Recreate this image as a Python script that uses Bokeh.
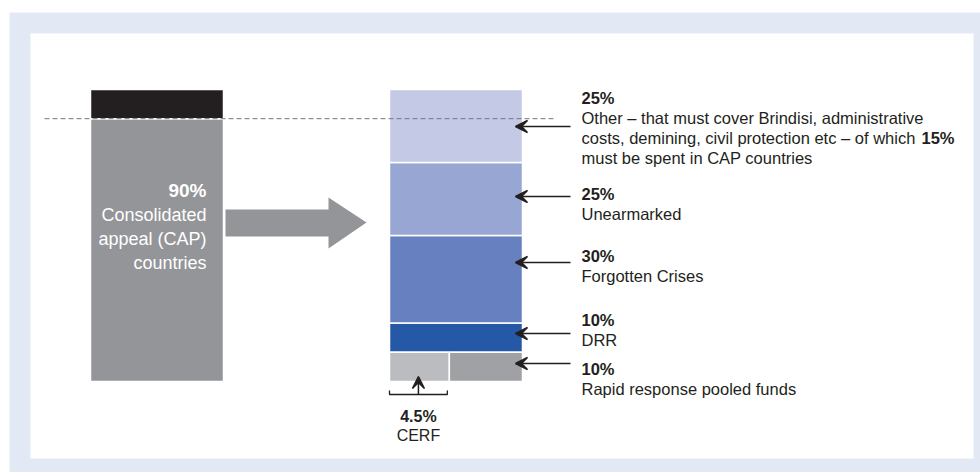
from bokeh.plotting import figure
from bokeh.models import Range1d, ColumnDataSource, Arrow, VeeHead
from bokeh.core.properties import value
from bokeh.embed import file_html
from bokeh.resources import INLINE
import numpy as np

# ---------------- data ----------------
left_labels = ["Consolidated appeal (CAP) countries", "Non-CAP"]
left_shares = [90, 10]

right_labels = ["Rapid response pooled funds", "DRR", "Forgotten Crises", "Unearmarked", "Other"]
right_shares = [10, 10, 30, 25, 25]

cerf_label = "CERF"
cerf_share = 4.5          # part of the rapid response pooled funds
other_cap_share = 15      # part of "Other" that must be spent in CAP countries

# ---------------- style / layout ----------------
FONT = value("Liberation Sans")
TXT = "#231f20"
left_colors = ["#939598", "#231f20"]
right_colors = ["#a0a1a4", "#2558a6", "#6780bf", "#98a6d3", "#c4c9e6"]
cerf_color = "#bbbcbf"

BAR_BOTTOM_PX, BAR_TOP_PX = 381, 89
PPP = (BAR_BOTTOM_PX - BAR_TOP_PX) / 100.0

p = figure(width=980, height=472,
           x_range=Range1d(0, 980), y_range=Range1d(472, 0),
           output_backend="svg", toolbar_location=None, min_border=0,
           x_axis_type=None, y_axis_type=None,
           outline_line_color=None,
           background_fill_color="white", border_fill_color="white")
p.grid.visible = False
p.extra_y_ranges = {"pct": Range1d(start=-(472 - BAR_BOTTOM_PX) / PPP,
                                   end=(BAR_BOTTOM_PX - 0) / PPP)}

# background panels
p.quad(left=[9], right=[980], bottom=[472], top=[12], color="#e3e9f4", line_color=None)
p.quad(left=[30], right=[973], bottom=[458], top=[33], color="white", line_color=None)

# ---------------- left bar ----------------
lb = np.cumsum([0] + left_shares[:-1])
lt = np.cumsum(left_shares)
p.quad(left=90, right=223, bottom=lb, top=lt, fill_color=left_colors,
       line_color="white", line_width=1.5, y_range_name="pct")

# ---------------- right bar ----------------
RX0, RX1 = 389, 522
rb = np.cumsum([0] + right_shares[:-1])
rt = np.cumsum(right_shares)
p.quad(left=RX0, right=RX1, bottom=rb[1:], top=rt[1:], fill_color=right_colors[1:],
       line_color="white", line_width=1.5, y_range_name="pct")
cerf_x1 = RX0 + (RX1 - RX0) * cerf_share / right_shares[0]
p.quad(left=[RX0, cerf_x1], right=[cerf_x1, RX1], bottom=[rb[0], rb[0]], top=[rt[0], rt[0]],
       fill_color=[cerf_color, right_colors[0]], line_color="white", line_width=1.5,
       y_range_name="pct")

# dashed line at the CAP share level
p.line(x=[44, 555], y=[left_shares[0], left_shares[0]], y_range_name="pct",
       line_dash="5 3", line_color="#77787b", line_width=1)

# big arrow
p.patch(x=[225, 328, 328, 366, 328, 328, 225], y=[209, 209, 197, 222, 248, 236, 236],
        color="#939598", line_color=None)

# left bar text
p.text(x=[206], y=[190], text=[f"{left_shares[0]}%"], text_font=FONT, text_font_style="bold",
       text_font_size="19px", text_color="white", text_align="right", text_baseline="alphabetic")
p.text(x=[206, 206, 206], y=[214, 238, 262], text=["Consolidated", "appeal (CAP)", "countries"],
       text_font=FONT, text_font_size="18px", text_color="white", text_align="right",
       text_baseline="alphabetic")

# ---------------- right labels ----------------
LX = 581
pct_baselines = [368, 319, 255, 193, 97]
arrow_y = [363, 333, 262, 196, 126]
desc_lines = [
    [right_labels[0]],
    [right_labels[1]],
    [right_labels[2]],
    [right_labels[3]],
    [f"{right_labels[4]} – that must cover Brindisi, administrative",
     "costs, demining, civil protection etc – of which ",
     "must be spent in CAP countries"],
]
p.text(x=[LX] * 5, y=pct_baselines, text=[f"{s}%" for s in right_shares],
       text_font=FONT, text_font_style="bold", text_font_size="16.5px", text_color=TXT,
       text_align="left", text_baseline="alphabetic")
dx, dy, dt = [], [], []
for base, lines in zip(pct_baselines, desc_lines):
    for k, ln in enumerate(lines):
        dx.append(LX)
        dy.append(base + 20 * (k + 1))
        dt.append(ln)
p.text(x=dx, y=dy, text=dt, text_font=FONT, text_font_size="16.5px", text_color=TXT,
       text_align="left", text_baseline="alphabetic")
p.text(x=[921], y=[pct_baselines[4] + 40], text=[f"{other_cap_share}%"], text_font=FONT,
       text_font_style="bold", text_font_size="16.5px", text_color=TXT,
       text_align="left", text_baseline="alphabetic")

asrc = ColumnDataSource(dict(x0=[570] * 5, x1=[515] * 5, y=arrow_y))
p.add_layout(Arrow(source=asrc, x_start="x0", y_start="y", x_end="x1", y_end="y",
                   line_color=TXT, line_width=1.5,
                   end=VeeHead(size=12, fill_color=TXT, line_color=TXT, line_width=1.5)))

# ---------------- CERF bracket ----------------
bx0, bx1 = RX0, cerf_x1 - 2
cx = (bx0 + bx1) / 2
p.line(x=[bx0, bx0, bx1, bx1], y=[390, 394, 394, 390], line_color=TXT, line_width=1.3)
p.add_layout(Arrow(x_start=cx, y_start=394, x_end=cx, y_end=376, line_color=TXT, line_width=1.5,
                   end=VeeHead(size=12, fill_color=TXT, line_color=TXT, line_width=1.5)))
p.text(x=[cx], y=[416], text=[f"{cerf_share}%"], text_font=FONT, text_font_style="bold",
       text_font_size="16px", text_color=TXT, text_align="center", text_baseline="alphabetic")
p.text(x=[cx], y=[435], text=[cerf_label], text_font=FONT, text_font_size="16px",
       text_color=TXT, text_align="center", text_baseline="alphabetic")

open("out.html", "w").write(file_html(p, INLINE))
